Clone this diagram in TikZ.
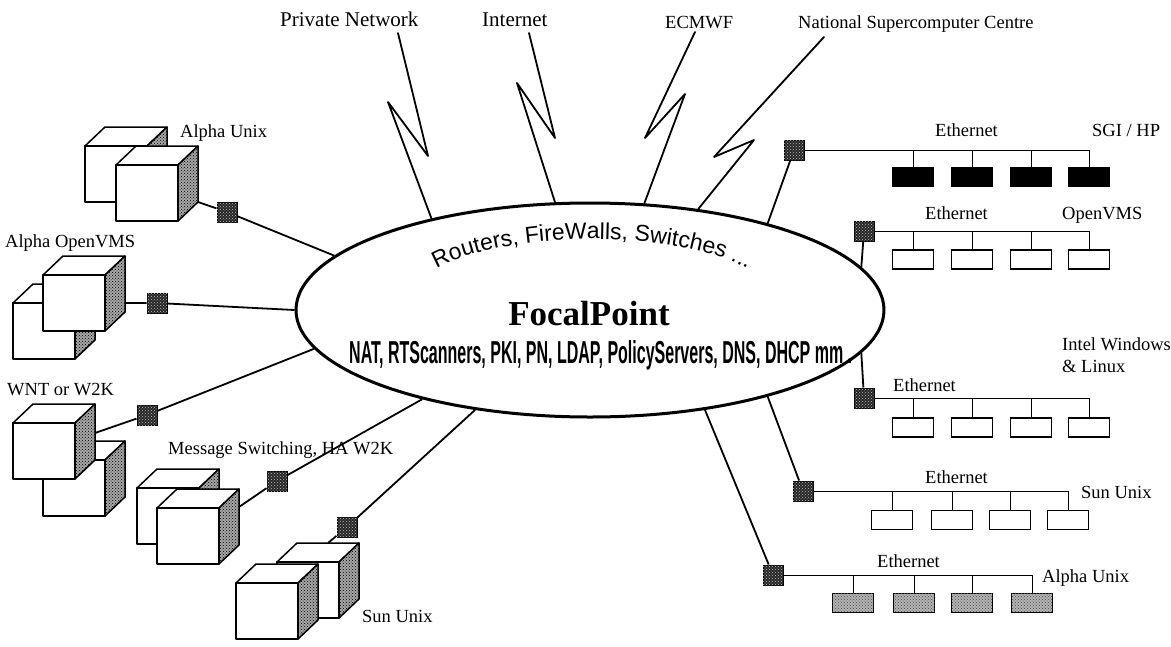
\documentclass[tikz,border=0pt]{standalone}
\usepackage{fontspec}
\usepackage{graphicx}
\setmainfont{Liberation Serif}
\newfontfamily\arialf{Liberation Sans}
\usetikzlibrary{shapes.geometric,patterns,decorations.text,calc}

\begin{document}
\begin{tikzpicture}[x=1pt,y=-1pt,
  lbl/.style={font=\fontsize{18.5}{21}\selectfont, inner sep=0, anchor=base west},
  biglbl/.style={font=\fontsize{21}{24}\selectfont, inner sep=0, anchor=base west},
  cubeline/.style={line width=1.5pt, line join=round},
  link/.style={line width=1.8pt},
  bolt/.style={line width=1.8pt, line join=round, line cap=round},
  bus/.style={line width=1pt},
  router/.style={draw, line width=1pt, minimum size=20pt, inner sep=0, fill=black!85,
    postaction={pattern=crosshatch dots, pattern color=white!75!black}},
  ws/.style={draw, line width=1.6pt, minimum width=41pt, minimum height=19pt, inner sep=0},
  wsdark/.style={ws, fill=black},
  wsdot/.style={ws, fill=black!30, postaction={pattern=crosshatch dots, pattern color=black!70}},
  pccube/.pic={
    \filldraw[cubeline, fill=white] (0,0) -- (20,-19) -- (82,-19) -- (62,0) -- cycle;
    \filldraw[cubeline, fill=black!35, postaction={pattern=crosshatch dots}]
      (62,0) -- (82,-19) -- (82,37) -- (62,56) -- cycle;
    \filldraw[cubeline, fill=white] (0,0) rectangle (62,56);
  },
]
\useasboundingbox (0,0) rectangle (1171,646);

% ---------- central backbone ----------
\node[draw, ellipse, line width=3pt, minimum width=588pt, minimum height=214pt, inner sep=0] (fp) at (590,310) {};
\path[decorate, decoration={text along path, text align=center,
    text={|\arialf\fontsize{23}{23}\selectfont|Routers, FireWalls, Switches ...}}]
  (412,299) arc[start angle=180, end angle=360, x radius=180, y radius=60];
\node[font=\bfseries\fontsize{35}{35}\selectfont, inner sep=0, anchor=base] (fptitle) at (589,325) {FocalPoint};
\node[inner sep=0, anchor=base west] (svc) at (349,363)
  {\resizebox{503pt}{23pt}{\arialf\bfseries NAT, RTScanners, PKI, PN, LDAP, PolicyServers, DNS, DHCP mm .}};

% ---------- wide-area links ----------
\node[biglbl] (lPN) at (280,26) {Private Network};
\node[biglbl] (lIN) at (482,26) {Internet};
\node[lbl] (lEC) at (665,28) {ECMWF};
\node[lbl] (lNS) at (798,28) {National Supercomputer Centre};

\coordinate (pnA) at (398,33);  \coordinate (pnB) at (428,156); \coordinate (pnC) at (388,102);
\coordinate (inA) at (529,33);  \coordinate (inB) at (555,138); \coordinate (inC) at (517,83);
\coordinate (ecA) at (695,32);  \coordinate (ecB) at (645,138); \coordinate (ecC) at (685,94);
\coordinate (nsA) at (824,37);  \coordinate (nsB) at (714,157); \coordinate (nsC) at (754,140);

\draw[bolt] (pnA) -- (pnB) -- (pnC) -- (fp.150.6);
\draw[bolt] (inA) -- (inB) -- (inC) -- (fp.108.4);
\draw[bolt] (ecA) -- (ecB) -- (ecC) -- (fp.63.2);
\draw[bolt] (nsA) -- (nsB) -- (nsC) -- (fp.43.4);

% ---------- server clusters (left) ----------
\pic at (85,146) {pccube};
\pic at (116,165) {pccube};
\pic at (13,303) {pccube};
\pic at (43,275) {pccube};
\pic at (43,460) {pccube};
\pic at (13,423) {pccube};
\pic at (137,488) {pccube};
\pic at (157,508) {pccube};
\pic at (277,562) {pccube};
\pic at (236,583) {pccube};

\node[lbl] (lAU) at (180,137) {Alpha Unix};
\node[lbl] (lAV) at (5,247) {Alpha OpenVMS};
\node[lbl] (lWN) at (7,395) {WNT or W2K};
\node[lbl] (lMS) at (168,454) {Message Switching, HA W2K};
\node[lbl] (lSU) at (362,622) {Sun Unix};

\coordinate (pAU) at (198,202);
\coordinate (pAV) at (125,303);
\coordinate (pWN) at (95,433);
\coordinate (pMS) at (239,507);
\coordinate (pSU) at (328,543);

\node[router] (rAU) at (227,212) {};
\node[router] (rAV) at (157,303) {};
\node[router] (rWN) at (147,415) {};
\node[router] (rMS) at (277,481) {};
\node[router] (rSU) at (347,527) {};

\draw[link] (pAU) -- (rAU) -- (fp.168.3);
\draw[link] (pAV) -- (rAV) -- (fp.180);
\draw[link] (pWN) -- (rWN) -- (fp.188.3);
\draw[link] (pMS) -- (rMS) -- (fp.208.6);
\draw[link] (pSU) -- (rSU) -- (fp.221.5);

% ---------- Ethernet segments (right) ----------
\node[router] (rSG) at (794,150) {};
\node[router] (rOV) at (864,231) {};
\node[router] (rIN) at (864,398) {};
\node[router] (rSR) at (803,491) {};
\node[router] (rAR) at (773,575) {};

\draw[link] (fp.26.7) -- (rSG);
\draw[link] (fp.9.7) -- (rOV);
\draw[link] (fp.-9.7) -- (rIN);
\draw[link] (fp.-26.7) -- (rSR);
\draw[link] (fp.-41) -- (rAR);

% SGI / HP
\foreach \i/\x in {1/913,2/972,3/1031,4/1089} \node[wsdark] (sg\i) at (\x,177) {};
\draw[bus] (rSG.east) -- (rSG.east -| sg4.north);
\foreach \i in {1,...,4} \draw[bus] (sg\i.north) -- (sg\i.north |- rSG.east);
\node[lbl] (lE1) at (935,136) {Ethernet};
\node[lbl] (lSG) at (1092,136) {SGI / HP};

% OpenVMS
\foreach \i/\x in {1/913,2/972,3/1031,4/1089} \node[ws] (ov\i) at (\x,259.5) {};
\draw[bus] (rOV.east) -- (rOV.east -| ov4.north);
\foreach \i in {1,...,4} \draw[bus] (ov\i.north) -- (ov\i.north |- rOV.east);
\node[lbl] (lE2) at (925,219) {Ethernet};
\node[lbl] (lOV) at (1062,219) {OpenVMS};

% Intel Windows & Linux
\foreach \i/\x in {1/913,2/972,3/1031,4/1089} \node[ws] (in\i) at (\x,427.5) {};
\draw[bus] (rIN.east) -- (rIN.east -| in4.north);
\foreach \i in {1,...,4} \draw[bus] (in\i.north) -- (in\i.north |- rIN.east);
\node[lbl] (lE3) at (893,391) {Ethernet};
\node[lbl] (lIW) at (1062,350) {Intel Windows};
\node[lbl] (lIL) at (1062,372) {\& Linux};

% Sun Unix
\foreach \i/\x in {1/892,2/952,3/1010,4/1068} \node[ws] (su\i) at (\x,520) {};
\draw[bus] (rSR.east) -- (rSR.east -| su4.north);
\foreach \i in {1,...,4} \draw[bus] (su\i.north) -- (su\i.north |- rSR.east);
\node[lbl] (lE4) at (925,483) {Ethernet};
\node[lbl] (lSR) at (1081,498) {Sun Unix};

% Alpha Unix
\foreach \i/\x in {1/853,2/914,3/972,4/1032} \node[wsdot] (ar\i) at (\x,603) {};
\draw[bus] (rAR.east) -- (rAR.east -| ar4.north);
\foreach \i in {1,...,4} \draw[bus] (ar\i.north) -- (ar\i.north |- rAR.east);
\node[lbl] (lE5) at (877,567) {Ethernet};
\node[lbl] (lAR) at (1042,582) {Alpha Unix};

\end{tikzpicture}
\end{document}
